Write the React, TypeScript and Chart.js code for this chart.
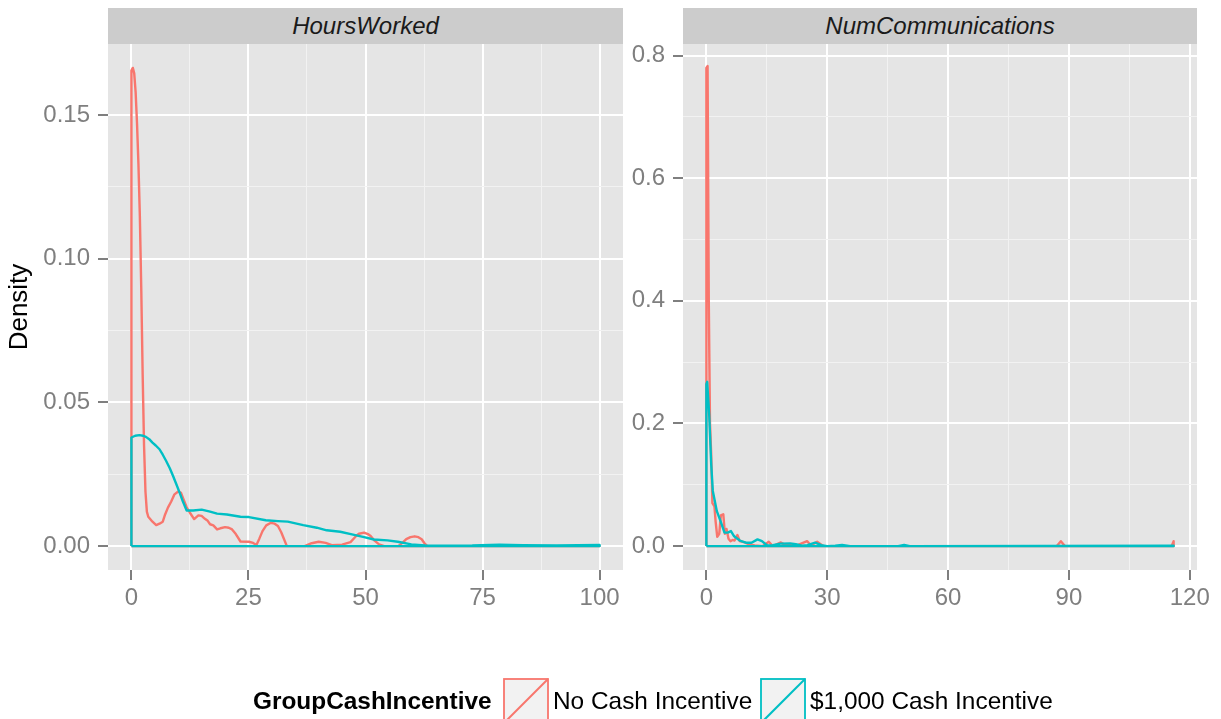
import React, { useEffect, useRef } from "react";
import { Chart, registerables } from "chart.js";

Chart.register(...registerables);

const FONT = "'Liberation Sans', Arial, Helvetica, sans-serif";
const RED = "#F8766D";
const CYAN = "#00BFC4";

// ---- Panel titles / legend ----
const panelTitles = ["HoursWorked", "NumCommunications"];
const legendTitle = "GroupCashIncentive";
const groupNames = ["No Cash Incentive", "$1,000 Cash Incentive"];

// ---- HoursWorked : No Cash Incentive ----
const hoursNoX = [0, 0.3, 0.6, 0.9, 1.2, 1.5, 1.8, 2.1, 2.4, 2.7, 3.0, 3.3, 3.6, 4.5, 5.3, 6.0, 6.7, 7.2, 7.8, 8.5, 9.2, 10.0, 10.6, 11.2, 11.8, 12.5, 13.4, 14.3, 15.0, 15.7, 16.3, 16.8, 17.5, 18.3, 19.0, 20.0, 20.8, 21.5, 22.3, 23.3, 25.1, 26.0, 26.7, 27.3, 28.0, 28.8, 29.8, 30.6, 31.3, 32.0, 32.5, 33.2, 37, 38.5, 40, 41.5, 42.8, 45, 46.8, 48.0, 48.6, 49.7, 50.5, 51.1, 52.0, 52.9, 54, 57, 58, 58.7, 59.6, 60.5, 61.3, 62.0, 62.6, 63.2, 100];
const hoursNoY = [0.1655, 0.1664, 0.1645, 0.158, 0.147, 0.133, 0.115, 0.09, 0.06, 0.035, 0.019, 0.012, 0.0102, 0.0085, 0.0073, 0.0078, 0.0085, 0.011, 0.0134, 0.0155, 0.018, 0.019, 0.0185, 0.016, 0.0135, 0.0116, 0.0094, 0.0107, 0.0105, 0.0095, 0.0088, 0.0076, 0.0072, 0.0058, 0.0062, 0.0066, 0.0064, 0.0058, 0.0042, 0.0016, 0.0015, 0.0011, 0.0004, 0.0025, 0.0052, 0.0072, 0.0081, 0.0078, 0.007, 0.0048, 0.0028, 0, 0, 0.001, 0.0015, 0.0011, 0.0003, 0.0005, 0.0014, 0.0035, 0.0043, 0.0047, 0.0042, 0.0035, 0.0018, 0.0006, 0, 0, 0.0013, 0.0024, 0.0031, 0.0034, 0.0031, 0.0024, 0.001, 0, 0];

// ---- HoursWorked : $1,000 Cash Incentive ----
const hoursCashX = [0, 0.8, 1.7, 2.5, 3.1, 3.8, 4.5, 5.2, 6.0, 6.7, 7.4, 8.2, 8.9, 9.6, 10.3, 11.0, 11.8, 13.2, 15.0, 16.8, 18.3, 20.4, 23.3, 25.1, 28.7, 31.3, 33.4, 36.7, 39.6, 41.7, 44.6, 47.1, 49.7, 51.8, 54.7, 56.9, 59.8, 62.7, 65.6, 72.8, 78.6, 83.6, 90.8, 100];
const hoursCashY = [0.0378, 0.0384, 0.0386, 0.0384, 0.038, 0.0372, 0.036, 0.035, 0.0337, 0.0318, 0.0297, 0.0271, 0.0244, 0.0215, 0.0186, 0.0155, 0.0124, 0.0124, 0.0127, 0.012, 0.0113, 0.011, 0.0102, 0.0101, 0.009, 0.0087, 0.0085, 0.0073, 0.0064, 0.0055, 0.005, 0.0041, 0.0031, 0.0023, 0.002, 0.0015, 0.0006, 0.0002, 0.0001, 0.0002, 0.0005, 0.0003, 0.0002, 0.0004];

// ---- NumCommunications : No Cash Incentive ----
const commNoX = [0, 0.3, 0.6, 0.9, 1.2, 1.5, 2.0, 2.3, 2.7, 3.2, 3.6, 4.2, 4.6, 5.0, 5.5, 6.0, 6.5, 7.0, 7.7, 8.3, 9.5, 10.5, 12, 14, 15.5, 16.5, 18.5, 19.5, 21, 22.5, 25, 26, 27.5, 29, 87, 88, 89, 115.5, 116];
const commNoY = [0.78, 0.783, 0.4, 0.2, 0.15, 0.07, 0.065, 0.04, 0.015, 0.02, 0.05, 0.052, 0.02, 0.028, 0.012, 0.008, 0.01, 0.009, 0.018, 0.008, 0.006, 0.003, 0.001, 0, 0.007, 0, 0.006, 0.002, 0.003, 0.001, 0.008, 0.001, 0.007, 0, 0, 0.008, 0, 0, 0.008];

// ---- NumCommunications : $1,000 Cash Incentive ----
const commCashX = [0, 0.2, 0.7, 1.2, 1.6, 2.6, 3.5, 4.5, 5.3, 6.1, 6.9, 8.3, 9.8, 11.2, 12.7, 13.8, 15.1, 16.5, 18.4, 20.8, 22.2, 23.7, 25.1, 27, 28.5, 30, 32, 33.7, 35.7, 47.6, 49.1, 50.5, 116];
const commCashY = [0.264, 0.268, 0.215, 0.134, 0.09, 0.057, 0.041, 0.022, 0.022, 0.0245, 0.016, 0.009, 0.0055, 0.0055, 0.011, 0.008, 0.001, 0.0016, 0.004, 0.0044, 0.003, 0.0005, 0.0016, 0.0055, 0.0016, 0, 0.0005, 0.002, 0, 0, 0.002, 0, 0.0005];

// ---- axis breaks ----
const hoursXMajor = [0, 25, 50, 75, 100];
const hoursXMinor = [12.5, 37.5, 62.5, 87.5];
const hoursYMajor = [0, 0.05, 0.1, 0.15];
const hoursYMinor = [0.025, 0.075, 0.125];
const commXMajor = [0, 30, 60, 90, 120];
const commXMinor = [15, 45, 75, 105];
const commYMajor = [0, 0.2, 0.4, 0.6, 0.8];
const commYMinor = [0.1, 0.3, 0.5, 0.7];

function outline(xs: number[], ys: number[]) {
  const pts = [{ x: xs[0], y: 0 }];
  xs.forEach((x, i) => pts.push({ x, y: ys[i] }));
  pts.push({ x: xs[xs.length - 1], y: 0 });
  pts.push({ x: xs[0], y: 0 });
  return pts;
}

const isIn = (arr: number[], v: number) => arr.some((m) => Math.abs(m - v) < 1e-9);

function axis(
  min: number,
  max: number,
  major: number[],
  minor: number[],
  fmt: (v: number) => string,
  horizontal: boolean,
  size: number,
  title?: string
) {
  return {
    type: "linear",
    position: horizontal ? "bottom" : "left",
    min,
    max,
    afterBuildTicks: (s: any) => {
      s.ticks = [...major, ...minor].sort((a, b) => a - b).map((v) => ({ value: v }));
    },
    afterFit: (s: any) => {
      if (horizontal) s.height = size;
      else s.width = size;
    },
    ticks: {
      autoSkip: false,
      maxRotation: 0,
      minRotation: 0,
      padding: horizontal ? 4 : 8,
      color: "#7F7F7F",
      font: { family: FONT, size: 24 },
      callback: (v: any) => (isIn(major, Number(v)) ? fmt(Number(v)) : ""),
    },
    grid: {
      color: (c: any) => (c.tick && isIn(major, c.tick.value) ? "#FFFFFF" : "#F2F2F2"),
      lineWidth: (c: any) => (c.tick && isIn(major, c.tick.value) ? 2 : 1),
      tickColor: (c: any) => (c.tick && isIn(major, c.tick.value) ? "#7F7F7F" : "rgba(0,0,0,0)"),
      tickWidth: 2,
      tickLength: 10,
    },
    border: { display: false },
    title: title
      ? {
          display: true,
          text: title,
          color: "#000000",
          font: { family: FONT, size: 26 },
          padding: { top: 4, bottom: 0 },
        }
      : { display: false },
  };
}

const panelBg = {
  id: "panelBg",
  beforeDraw(chart: any) {
    const { ctx, chartArea: a } = chart;
    ctx.save();
    ctx.fillStyle = "#E5E5E5";
    ctx.fillRect(a.left, a.top, a.right - a.left, a.bottom - a.top);
    ctx.restore();
  },
};

type PanelProps = {
  left: number;
  width: number;
  yWidth: number;
  padRight: number;
  xs: [number[], number[]];
  ys: [number[], number[]];
  xRange: [number, number];
  yRange: [number, number];
  xMajor: number[];
  xMinor: number[];
  yMajor: number[];
  yMinor: number[];
  xFmt: (v: number) => string;
  yFmt: (v: number) => string;
  yTitle?: string;
};

function Panel(p: PanelProps) {
  const ref = useRef<HTMLCanvasElement>(null);
  useEffect(() => {
    if (!ref.current) return;
    const chart = new Chart(ref.current, {
      type: "scatter",
      data: {
        datasets: [
          {
            label: groupNames[0],
            data: outline(p.xs[0], p.ys[0]),
            showLine: true,
            borderColor: RED,
            backgroundColor: RED,
            borderWidth: 2.4,
            borderJoinStyle: "round",
            pointRadius: 0,
            tension: 0,
            order: 2,
          },
          {
            label: groupNames[1],
            data: outline(p.xs[1], p.ys[1]),
            showLine: true,
            borderColor: CYAN,
            backgroundColor: CYAN,
            borderWidth: 2.4,
            borderJoinStyle: "round",
            pointRadius: 0,
            tension: 0,
            order: 1,
          },
        ],
      },
      options: {
        animation: false,
        responsive: false,
        maintainAspectRatio: false,
        devicePixelRatio: 1,
        layout: { padding: { top: 44, right: p.padRight, bottom: 89, left: 0 } },
        plugins: { legend: { display: false }, tooltip: { enabled: false } },
        scales: {
          x: axis(p.xRange[0], p.xRange[1], p.xMajor, p.xMinor, p.xFmt, true, 60) as any,
          y: axis(p.yRange[0], p.yRange[1], p.yMajor, p.yMinor, p.yFmt, false, p.yWidth, p.yTitle) as any,
        },
      } as any,
      plugins: [panelBg],
    });
    return () => chart.destroy();
  }, []);
  return (
    <canvas
      ref={ref}
      width={p.width}
      height={719}
      style={{ position: "absolute", left: p.left, top: 0, width: p.width, height: 719 }}
    />
  );
}

function Strip({ left, width, text }: { left: number; width: number; text: string }) {
  return (
    <div
      style={{
        position: "absolute",
        left,
        top: 8,
        width,
        height: 36,
        background: "#CCCCCC",
        color: "#1A1A1A",
        fontFamily: FONT,
        fontStyle: "italic",
        fontSize: 24,
        lineHeight: "36px",
        textAlign: "center",
      }}
    >
      {text}
    </div>
  );
}

function Key({ left, color }: { left: number; color: string }) {
  return (
    <svg width={46} height={46} style={{ position: "absolute", left, top: 678 }}>
      <rect x={1} y={1} width={44} height={44} fill="#F2F2F2" stroke={color} strokeWidth={1.8} />
      <line x1={1} y1={45} x2={45} y2={1} stroke={color} strokeWidth={2} />
    </svg>
  );
}

export default function App() {
  const textStyle = {
    position: "absolute" as const,
    top: 686,
    fontFamily: FONT,
    fontSize: 24.4,
    lineHeight: "30px",
    color: "#000000",
    whiteSpace: "nowrap" as const,
  };
  return (
    <div
      style={{
        position: "absolute",
        left: 0,
        top: 0,
        width: 1221,
        height: 719,
        overflow: "hidden",
        background: "#FFFFFF",
      }}
    >
      <Panel
        left={0}
        width={628}
        yWidth={108}
        padRight={5}
        xs={[hoursNoX, hoursCashX]}
        ys={[hoursNoY, hoursCashY]}
        xRange={[-5, 105]}
        yRange={[-0.00832, 0.17472]}
        xMajor={hoursXMajor}
        xMinor={hoursXMinor}
        yMajor={hoursYMajor}
        yMinor={hoursYMinor}
        xFmt={(v) => String(v)}
        yFmt={(v) => v.toFixed(2)}
        yTitle="Density"
      />
      <Panel
        left={628}
        width={593}
        yWidth={55}
        padRight={24}
        xs={[commNoX, commCashX]}
        ys={[commNoY, commCashY]}
        xRange={[-5.8, 121.8]}
        yRange={[-0.039, 0.819]}
        xMajor={commXMajor}
        xMinor={commXMinor}
        yMajor={commYMajor}
        yMinor={commYMinor}
        xFmt={(v) => String(v)}
        yFmt={(v) => v.toFixed(1)}
      />
      <Strip left={108} width={515} text={panelTitles[0]} />
      <Strip left={683} width={514} text={panelTitles[1]} />
      <div style={{ ...textStyle, left: 253, fontWeight: "bold" }}>{legendTitle}</div>
      <Key left={503} color={RED} />
      <div style={{ ...textStyle, left: 553 }}>{groupNames[0]}</div>
      <Key left={760} color={CYAN} />
      <div style={{ ...textStyle, left: 810 }}>{groupNames[1]}</div>
    </div>
  );
}
